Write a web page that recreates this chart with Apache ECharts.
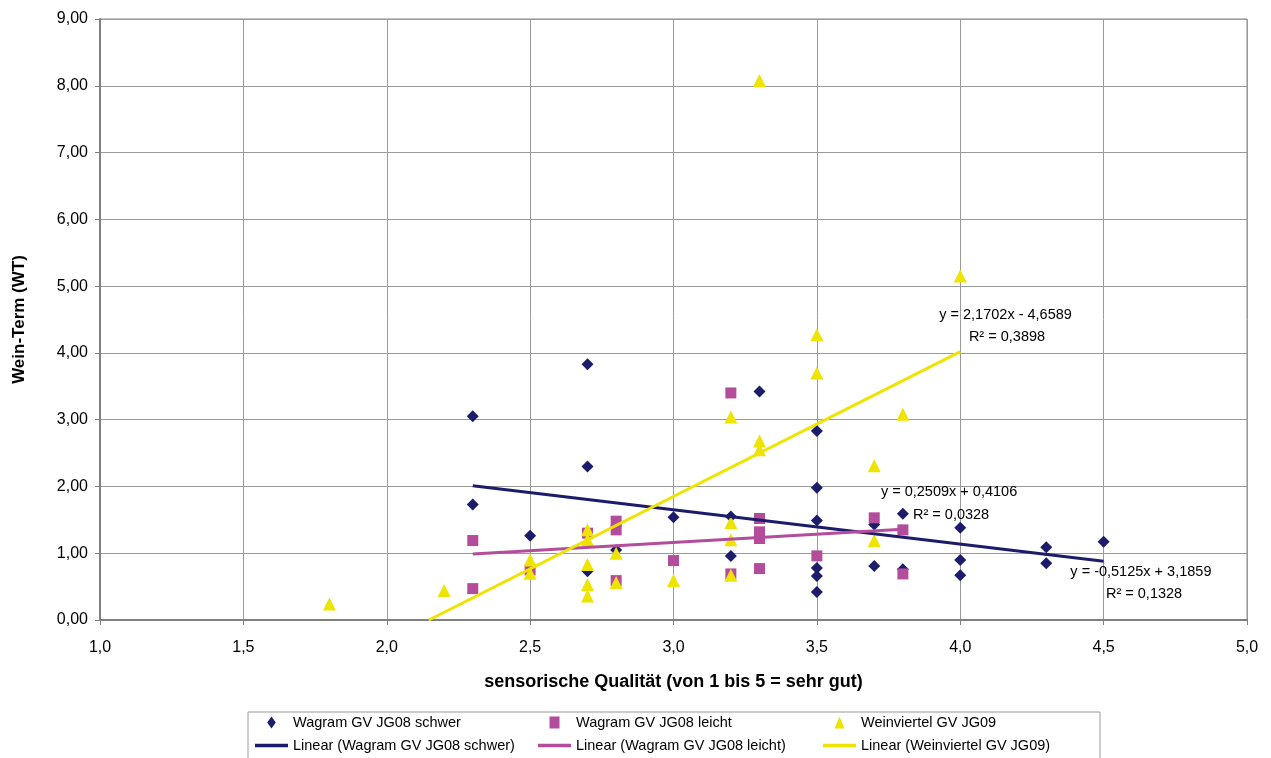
<!DOCTYPE html>
<html>
<head>
<meta charset="utf-8">
<script src="https://cdn.jsdelivr.net/npm/echarts@6/dist/echarts.min.js"></script>
<style>
html,body{margin:0;padding:0;background:#fff;}
#chart{width:1271px;height:758px;}
</style>
</head>
<body>
<div id="chart"></div>
<script>
// Wagram GV JG08 schwer (Rauten)
var schwer = [
	[2.3,3.05],[2.3,1.73],[2.5,1.26],[2.7,3.83],[2.7,2.30],[2.7,0.73],[2.8,1.05],
	[3.0,1.54],[3.2,1.55],[3.2,0.96],[3.3,3.42],
	[3.5,2.83],[3.5,1.98],[3.5,1.49],[3.5,0.78],[3.5,0.66],[3.5,0.42],
	[3.7,1.43],[3.7,0.81],[3.8,1.59],[3.8,0.76],
	[4.0,1.38],[4.0,0.90],[4.0,0.67],[4.3,1.09],[4.3,0.85],[4.5,1.17]
];
// Wagram GV JG08 leicht (Quadrate)
var leicht = [
	[2.3,1.19],[2.3,0.47],[2.5,0.75],[2.7,1.30],[2.8,1.48],[2.8,1.35],[2.8,0.59],
	[3.0,0.89],[3.2,3.40],[3.2,0.69],[3.3,1.52],[3.3,1.32],[3.3,1.22],[3.3,0.77],
	[3.5,0.96],[3.7,1.53],[3.8,1.35],[3.8,0.69]
];
// Weinviertel GV JG09 (Dreiecke)
var weinviertel = [
	[1.8,0.24],[2.2,0.44],[2.5,0.90],[2.5,0.70],
	[2.7,1.35],[2.7,1.20],[2.7,0.83],[2.7,0.53],[2.7,0.36],
	[2.8,1.00],[2.8,0.56],[3.0,0.59],
	[3.2,3.04],[3.2,1.46],[3.2,1.20],[3.2,0.67],
	[3.3,8.08],[3.3,2.68],[3.3,2.55],[3.5,4.27],[3.5,3.70],
	[3.7,2.31],[3.7,1.19],[3.8,3.08],[4.0,5.15]
];
// Trendlinien: Endpunkte
var trendSchwer = [[2.3,2.01],[4.5,0.88]];
var trendLeicht = [[2.3,0.99],[3.8,1.36]];
var trendWein = [[2.147,0],[4.0,4.02]];
// Gleichungen
var eqSchwer = ["y = -0,5125x + 3,1859", "R² = 0,1328"];
var eqLeicht = ["y = 0,2509x + 0,4106", "R² = 0,0328"];
var eqWein = ["y = 2,1702x - 4,6589", "R² = 0,3898"];

var navy = "#1c1c6a";
var pink = "#b44c9c";
var yellow = "#efe400";
var font = "Liberation Sans, Arial, sans-serif";

// Legendensymbole
var iconLine = "path://M0,0H36V4H0Z";
var iconDiamond = "path://M5,0L10,7L5,14L0,7Z";
var iconSquare = "path://M0,0H10V12H0Z";
var iconTriangle = "path://M5,0L10,12L0,12Z";

function eqLabel(text, x, y){
	return {
		coord:[x,y],
		symbol:"circle",
		symbolSize:1,
		itemStyle:{color:"rgba(0,0,0,0)"},
		label:{show:true, position:"inside", formatter:text, color:"#000", fontSize:14.5, fontFamily:font}
	};
}

function legendCol(left, names, icon){
	return {
		data:[{name:names[0], icon:icon}, {name:names[1], icon:iconLine}],
		orient:"vertical", left:left, top:710, height:100,
		itemWidth:33, itemHeight:12, itemGap:8,
		symbolKeepAspect:true,
		textStyle:{fontSize:14.5, color:"#000", fontFamily:font}
	};
}

var myChart = echarts.init(document.getElementById("chart"));
var option = {
	animation:false,
	backgroundColor:"#fff",
	grid:{
		left:100, right:24, top:19, bottom:138,
		show:true, borderColor:"#888", borderWidth:1
	},
	xAxis:{
		type:"value",
		min:1, max:5, interval:0.5,
		name:"sensorische Qualität (von 1 bis 5 = sehr gut)",
		nameLocation:"middle",
		nameGap:53,
		nameTextStyle:{fontSize:18, fontWeight:"bold", color:"#000", fontFamily:font},
		axisLine:{lineStyle:{color:"#808080", width:2}},
		axisTick:{show:true, length:5, lineStyle:{color:"#808080"}},
		axisLabel:{
			margin:20, fontSize:16, color:"#000", fontFamily:font,
			formatter:function(v){ return v.toFixed(1).replace(".", ","); }
		},
		splitLine:{show:true, lineStyle:{color:"#9a9a9a", width:1}}
	},
	yAxis:{
		type:"value",
		min:0, max:9, interval:1,
		name:"Wein-Term (WT)",
		nameLocation:"middle",
		nameGap:72,
		nameTextStyle:{fontSize:17, fontWeight:"bold", color:"#000", fontFamily:font},
		axisLine:{show:true, lineStyle:{color:"#808080", width:2}},
		axisTick:{show:true, length:5, lineStyle:{color:"#808080"}},
		axisLabel:{
			margin:12, fontSize:16, color:"#000", fontFamily:font,
			formatter:function(v){ return v.toFixed(2).replace(".", ","); }
		},
		splitLine:{show:true, lineStyle:{color:"#9a9a9a", width:1}}
	},
	legend:[
		legendCol(250, ["Wagram GV JG08 schwer","Linear (Wagram GV JG08 schwer)"], iconDiamond),
		legendCol(533, ["Wagram GV JG08 leicht","Linear (Wagram GV JG08 leicht)"], iconSquare),
		legendCol(818, ["Weinviertel GV JG09","Linear (Weinviertel GV JG09)"], iconTriangle)
	],
	graphic:[
		{
			type:"rect",
			shape:{x:248, y:712, width:852, height:60},
			style:{fill:"none", stroke:"#999", lineWidth:1},
			silent:true
		}
	],
	series:[
		{
			name:"Wagram GV JG08 schwer",
			type:"scatter",
			symbol:"diamond",
			symbolSize:12,
			data:schwer,
			itemStyle:{color:navy, opacity:1}
		},
		{
			name:"Wagram GV JG08 leicht",
			type:"scatter",
			symbol:"rect",
			symbolSize:11,
			data:leicht,
			itemStyle:{color:pink, opacity:1}
		},
		{
			name:"Weinviertel GV JG09",
			type:"scatter",
			symbol:"triangle",
			symbolSize:13,
			data:weinviertel,
			itemStyle:{color:yellow, opacity:1}
		},
		{
			name:"Linear (Wagram GV JG08 schwer)",
			type:"line",
			symbol:"none",
			data:trendSchwer,
			lineStyle:{color:navy, width:3},
			itemStyle:{color:navy},
			markPoint:{data:[eqLabel(eqSchwer[0],4.630,0.72), eqLabel(eqSchwer[1],4.641,0.39)]}
		},
		{
			name:"Linear (Wagram GV JG08 leicht)",
			type:"line",
			symbol:"none",
			data:trendLeicht,
			lineStyle:{color:pink, width:3},
			itemStyle:{color:pink},
			markPoint:{data:[eqLabel(eqLeicht[0],3.961,1.91), eqLabel(eqLeicht[1],3.968,1.57)]}
		},
		{
			name:"Linear (Weinviertel GV JG09)",
			type:"line",
			symbol:"none",
			data:trendWein,
			lineStyle:{color:yellow, width:3},
			itemStyle:{color:yellow},
			markPoint:{data:[eqLabel(eqWein[0],4.158,4.57), eqLabel(eqWein[1],4.163,4.24)]}
		}
	]
};
myChart.setOption(option);
</script>
</body>
</html>
